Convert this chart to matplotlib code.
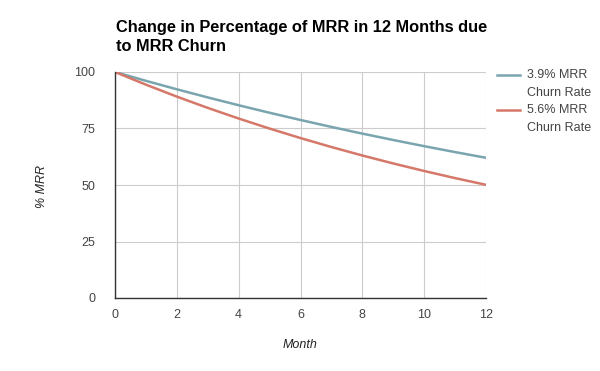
import matplotlib
matplotlib.use("Agg")
import matplotlib.pyplot as plt
from matplotlib.lines import Line2D

months = [0, 1, 2, 3, 4, 5, 6, 7, 8, 9, 10, 11, 12]
churn_39 = [100.0, 96.10, 92.35, 88.75, 85.29, 81.96, 78.77, 75.69, 72.74, 69.91, 67.18, 64.56, 62.04]
churn_56 = [100.0, 94.40, 89.11, 84.12, 79.41, 74.97, 70.77, 66.80, 63.06, 59.53, 56.20, 53.05, 50.08]
series_labels = ["3.9% MRR\nChurn Rate", "5.6% MRR\nChurn Rate"]
xticks = [0, 2, 4, 6, 8, 10, 12]
yticks = [0, 25, 50, 75, 100]
colors = ['#79a5ae', '#d57869']

plt.rcParams['font.family'] = ['Liberation Sans', 'DejaVu Sans']

W, H = 600, 371
fig = plt.figure(figsize=(6, 3.71), dpi=100)
ax = fig.add_axes([115/W, 1-298/H, (486-115)/W, (298-72)/H])

ax.plot(months, churn_39, color=colors[0], lw=1.8)
ax.plot(months, churn_56, color=colors[1], lw=1.8)

ax.set_xlim(0, 12)
ax.set_ylim(0, 100)
ax.set_xticks(xticks)
ax.set_yticks(yticks)
ax.grid(True, color='#cccccc', lw=0.8)
ax.set_axisbelow(True)
for s in ['top', 'right']:
    ax.spines[s].set_visible(False)
for s in ['left', 'bottom']:
    ax.spines[s].set_color('#333333')
    ax.spines[s].set_linewidth(1.0)
ax.tick_params(length=0, labelsize=9, colors='#444444')
ax.tick_params(axis='x', pad=8)
ax.tick_params(axis='y', pad=14)

fig.text(42/W, 1-187/H, '% MRR', rotation=90, style='italic', fontsize=9,
         color='#222222', ha='center', va='center')
fig.text(300/W, 1-345/H, 'Month', style='italic', fontsize=9,
         color='#222222', ha='center', va='center')
fig.text(116/W, 1-20/H, 'Change in Percentage of MRR in 12 Months due\nto MRR Churn',
         fontsize=11.8, fontweight='bold', color='#000000', ha='left', va='top',
         linespacing=1.35)

# legend, with each handle aligned to the first line of its label
for i, (lab, c) in enumerate(zip(series_labels, colors)):
    y0 = 75 + i * 35
    fig.add_artist(Line2D([497/W, 520/W], [1-y0/H, 1-y0/H], color=c, lw=1.8,
                          transform=fig.transFigure))
    for j, ln in enumerate(lab.split('\n')):
        fig.text(527/W, 1-(y0 + j*18)/H, ln, fontsize=9, color='#444444',
                 ha='left', va='center')

fig.savefig('out.png', dpi=100)
